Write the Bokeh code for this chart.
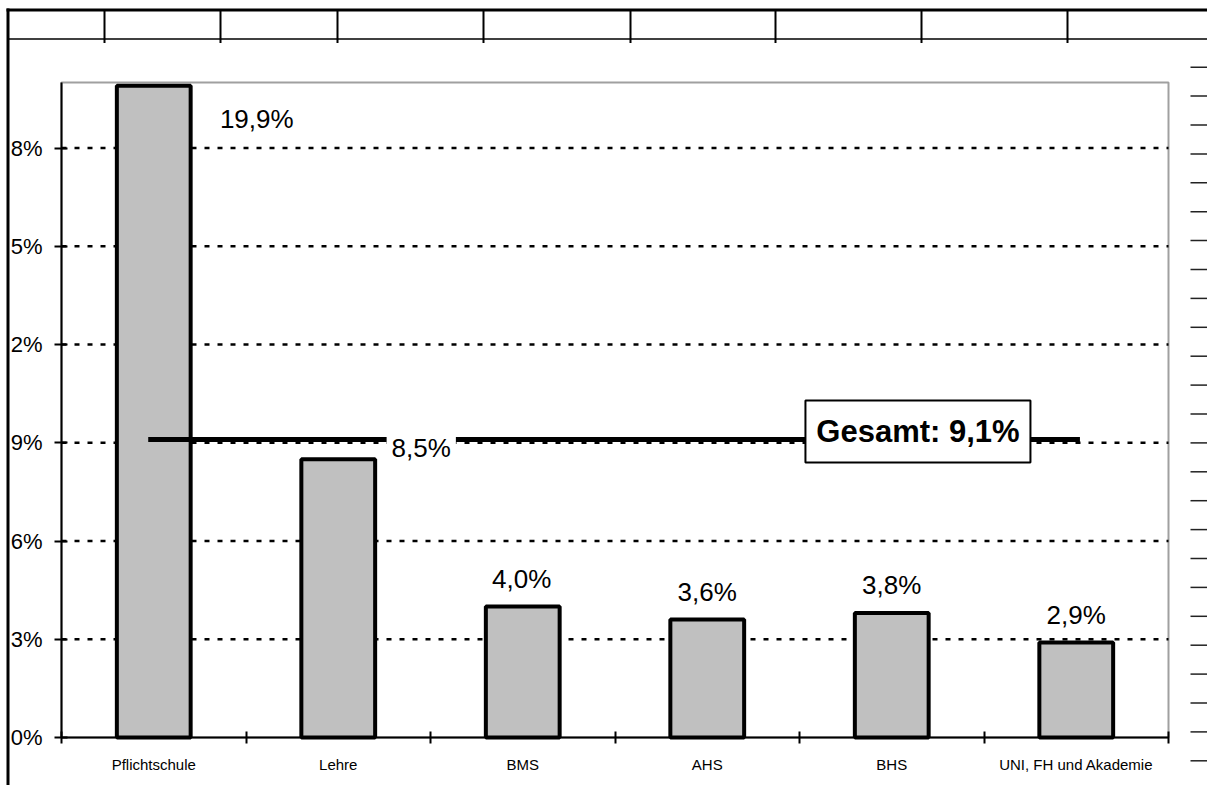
from bokeh.plotting import figure
from bokeh.models import FixedTicker, ColumnDataSource, Range1d
from bokeh.embed import file_html
from bokeh.resources import INLINE
from bokeh.core.properties import value

# ---------------- data ----------------
categories = ["Pflichtschule", "Lehre", "BMS", "AHS", "BHS", "UNI, FH und Akademie"]
rates = [19.9, 8.5, 4.0, 3.6, 3.8, 2.9]
total_rate = 9.1
total_text = "Gesamt: 9,1%"
y_ticks = [0, 3, 6, 9, 12, 15, 18]
y_tick_labels = ["0%", "3%", "6%", "9%", "2%", "5%", "8%"]
y_max = 20

# label placement (screen px offsets from bar top centre)
label_dx = [103, 83, -1, 0, 0, 0]
label_dy = [33, -11, -28, -28, -28, -28]

FONT = "Liberation Sans"
W, H = 1207, 785
# plot-area placement on the canvas (px)
PL, PR, PT, PB = 61, 1168, 82, 737

n = len(categories)
centers = [i + 0.5 for i in range(n)]
labels = [("%.1f" % v).replace(".", ",") + "%" for v in rates]

sx = (PR - PL) / n
sy = (PB - PT) / y_max
x_range = Range1d(-PL / sx, n + (W - PR) / sx)
y_range = Range1d(-(H - PB) / sy, y_max + PT / sy)

p = figure(width=W, height=H, x_range=x_range, y_range=y_range,
           output_backend="svg", toolbar_location=None,
           min_border=0, min_border_left=0, min_border_right=0,
           min_border_top=0, min_border_bottom=0)
p.background_fill_color = "white"
p.border_fill_color = "white"
p.outline_line_color = None
p.grid.visible = False
p.extra_x_ranges = {"px": Range1d(0, W)}
p.extra_y_ranges = {"px": Range1d(H, 0)}

# y axis
yt = FixedTicker(ticks=y_ticks, minor_ticks=[])
ax = p.yaxis[0]
ax.fixed_location = 0
ax.bounds = (0, y_max)
ax.ticker = yt
ax.major_label_overrides = {t: l for t, l in zip(y_ticks, y_tick_labels)}
ax.major_tick_in = 6
ax.major_tick_out = 7
ax.minor_tick_in = 0
ax.minor_tick_out = 0
ax.axis_line_width = 2
ax.axis_line_color = "black"
ax.major_tick_line_width = 2
ax.major_tick_line_color = "black"
ax.major_label_standoff = 12
ax.major_label_text_font = FONT
ax.major_label_text_font_size = "22px"
ax.major_label_text_color = "black"

# x axis
xt = FixedTicker(ticks=centers, minor_ticks=list(range(n + 1)))
bx = p.xaxis[0]
bx.fixed_location = 0
bx.bounds = (0, n)
bx.ticker = xt
bx.major_label_overrides = {c: name for c, name in zip(centers, categories)}
bx.major_tick_in = 0
bx.major_tick_out = 0
bx.minor_tick_in = 6
bx.minor_tick_out = 6
bx.minor_tick_line_width = 2
bx.minor_tick_line_color = "black"
bx.axis_line_width = 2
bx.axis_line_color = "black"
bx.major_label_standoff = 12
bx.major_label_text_font = FONT
bx.major_label_text_font_size = "15px"
bx.major_label_text_color = "black"

# plot area border (grey) and dotted grid lines
p.quad(left=[0], right=[n], bottom=[0], top=[y_max], fill_color=None,
       line_color="#a0a0a0", line_width=2)
gy = y_ticks[1:]
p.segment(x0=[0] * len(gy), x1=[n] * len(gy), y0=gy, y1=gy,
          line_color="black", line_width=2.5, line_dash="5 8")

# bars
src = ColumnDataSource(dict(x=centers, top=rates, label=labels, dx=label_dx, dy=label_dy))
p.vbar(x="x", top="top", bottom=0, width=0.4, source=src,
       fill_color="#c0c0c0", line_color="black", line_width=4)

# overall line
p.line([0.47, 5.52], [total_rate, total_rate], line_color="black", line_width=5)

# value labels
p.text(x="x", y="top", text="label", x_offset="dx", y_offset="dy", source=src,
       text_font=value(FONT), text_font_size="26px", text_color="black",
       text_align="center", text_baseline="middle",
       background_fill_color="white", padding=5)

# overall box
p.rect(x=[4.642], y=[9.34], width=225, height=62, width_units="screen", height_units="screen",
       fill_color="white", line_color="black", line_width=2)
p.text(x=[4.642], y=[9.34], text=[total_text], text_font=value(FONT), text_font_size="31px",
       text_font_style="bold", text_color="black", text_align="center", text_baseline="middle")

# spreadsheet decorations (pixel range, y from top)
def seg(x0, y0, x1, y1, w, color="black"):
    p.segment(x0=x0, y0=y0, x1=x1, y1=y1, line_width=w, line_color=color,
              x_range_name="px", y_range_name="px")

seg([6], [9.5], [W], [9.5], 3)
seg([7.5], [8], [7.5], [H], 3)
seg([8], [38.5], [W], [38.5], 1.5)
cols = [104, 220, 337, 483, 630, 775, 921, 1067]
seg(cols, [9] * len(cols), cols, [42.5] * len(cols), 2)
rows = [66.7 + k * 28.9 for k in range(25)]
seg([1190] * len(rows), rows, [W] * len(rows), rows, 1.5, "#222222")

open("out.html", "w").write(file_html(p, INLINE))
